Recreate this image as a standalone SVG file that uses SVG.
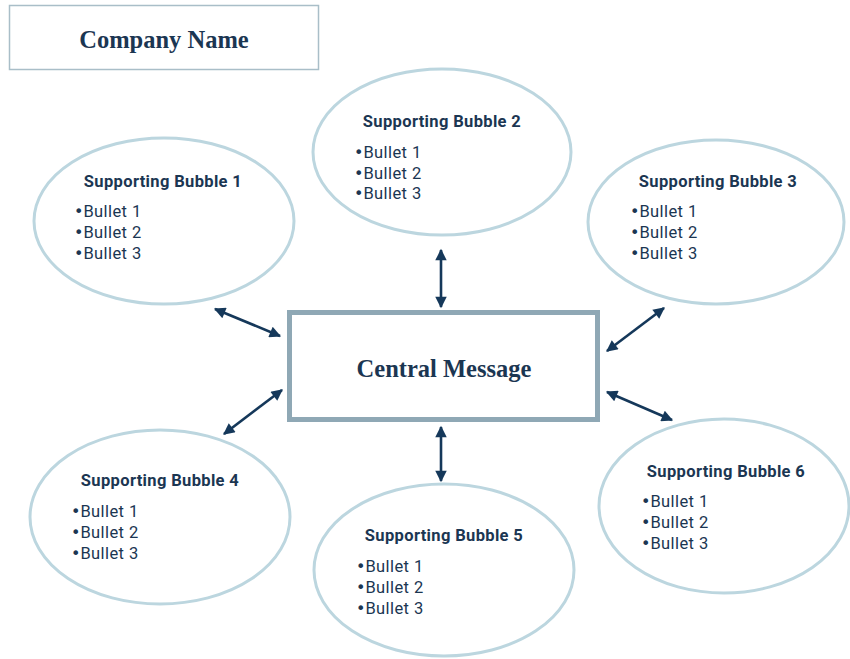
<svg xmlns="http://www.w3.org/2000/svg" width="850" height="659" viewBox="0 0 850 659">
<defs>
<marker id="ah" viewBox="0 0 10 10" refX="9" refY="5" markerWidth="5.4" markerHeight="4.4" orient="auto-start-reverse" markerUnits="strokeWidth">
<path d="M0,0 L10,5 L0,10 z" fill="#15385a"/>
</marker>
<style>
.bub{fill:#fff;stroke:#bcd6df;stroke-width:3}
.ttl{font-family:Roboto,"Liberation Sans",sans-serif;font-weight:700;font-size:16.5px;letter-spacing:0.35px;fill:#1b3652;text-anchor:middle}
.bul{font-family:Roboto,"Liberation Sans",sans-serif;font-size:16.5px;letter-spacing:0.4px;fill:#1b3652}
.dot{font-family:"DejaVu Sans",sans-serif;font-size:16px;letter-spacing:0}
.hd{font-family:"Liberation Serif",serif;font-weight:700;fill:#1b3652;text-anchor:middle}
.con{stroke:#15385a;stroke-width:2.6;fill:none;marker-start:url(#ah);marker-end:url(#ah)}
</style>
</defs>
<rect width="850" height="659" fill="#fff"/>
<g id="company">
<rect x="9.5" y="5.5" width="309" height="64" fill="#fff" stroke="#a9bec8" stroke-width="1.5"/>
<text class="hd" x="164" y="48" font-size="24.5">Company Name</text>
</g>
<g id="bubble1">
<ellipse class="bub" cx="164" cy="221" rx="130" ry="83"/>
<text class="ttl" x="163" y="187">Supporting Bubble 1</text>
<text class="bul" x="74" y="217"><tspan class="dot">•</tspan>Bullet 1</text>
<text class="bul" x="74" y="238"><tspan class="dot">•</tspan>Bullet 2</text>
<text class="bul" x="74" y="259"><tspan class="dot">•</tspan>Bullet 3</text>
</g>
<g id="bubble2">
<ellipse class="bub" cx="442" cy="152" rx="129" ry="83"/>
<text class="ttl" x="442" y="127">Supporting Bubble 2</text>
<text class="bul" x="354" y="158"><tspan class="dot">•</tspan>Bullet 1</text>
<text class="bul" x="354" y="179"><tspan class="dot">•</tspan>Bullet 2</text>
<text class="bul" x="354" y="199"><tspan class="dot">•</tspan>Bullet 3</text>
</g>
<g id="bubble3">
<ellipse class="bub" cx="716" cy="222" rx="128" ry="82"/>
<text class="ttl" x="718" y="187">Supporting Bubble 3</text>
<text class="bul" x="630" y="217"><tspan class="dot">•</tspan>Bullet 1</text>
<text class="bul" x="630" y="238"><tspan class="dot">•</tspan>Bullet 2</text>
<text class="bul" x="630" y="259"><tspan class="dot">•</tspan>Bullet 3</text>
</g>
<g id="bubble4">
<ellipse class="bub" cx="160" cy="517" rx="130" ry="87"/>
<text class="ttl" x="160" y="486">Supporting Bubble 4</text>
<text class="bul" x="71" y="517"><tspan class="dot">•</tspan>Bullet 1</text>
<text class="bul" x="71" y="538"><tspan class="dot">•</tspan>Bullet 2</text>
<text class="bul" x="71" y="559"><tspan class="dot">•</tspan>Bullet 3</text>
</g>
<g id="bubble5">
<ellipse class="bub" cx="444" cy="570" rx="130" ry="86"/>
<text class="ttl" x="444" y="541">Supporting Bubble 5</text>
<text class="bul" x="356" y="572"><tspan class="dot">•</tspan>Bullet 1</text>
<text class="bul" x="356" y="593"><tspan class="dot">•</tspan>Bullet 2</text>
<text class="bul" x="356" y="614"><tspan class="dot">•</tspan>Bullet 3</text>
</g>
<g id="bubble6">
<ellipse class="bub" cx="724" cy="506" rx="125" ry="87"/>
<text class="ttl" x="726" y="477">Supporting Bubble 6</text>
<text class="bul" x="641" y="507"><tspan class="dot">•</tspan>Bullet 1</text>
<text class="bul" x="641" y="528"><tspan class="dot">•</tspan>Bullet 2</text>
<text class="bul" x="641" y="549"><tspan class="dot">•</tspan>Bullet 3</text>
</g>
<g id="central">
<rect x="289.5" y="312.5" width="308" height="107" fill="#fff" stroke="#8fa8b5" stroke-width="5"/>
<text class="hd" x="444" y="377" font-size="24.5">Central Message</text>
</g>
<g id="connectors">
<line class="con" x1="215" y1="309" x2="280" y2="336"/>
<line class="con" x1="441" y1="250" x2="441" y2="307"/>
<line class="con" x1="664" y1="308" x2="607" y2="351"/>
<line class="con" x1="282" y1="390" x2="224" y2="434"/>
<line class="con" x1="441" y1="427" x2="441" y2="481"/>
<line class="con" x1="607" y1="392" x2="672" y2="420"/>
</g>
</svg>
